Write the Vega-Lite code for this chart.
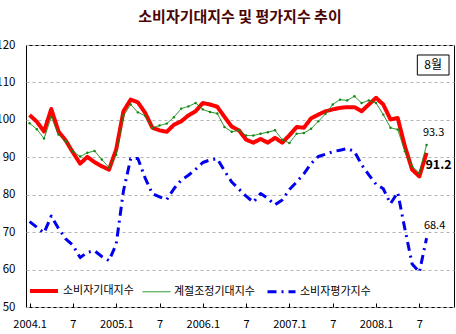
{
  "$schema": "https://vega.github.io/schema/vega-lite/v6.json",
  "width": 428,
  "height": 262,
  "autosize": {"type": "none"},
  "padding": {"left": 26, "top": 45, "right": 2, "bottom": 27},
  "background": "white",
  "title": {"text": "소비자기대지수 및 평가지수 추이", "anchor": "middle", "frame": "group", "offset": 2, "baseline": "alphabetic", "fontSize": 15, "fontWeight": "bold", "color": "#4a0505", "font": "Noto Sans CJK KR"},
  "config": {
    "view": {"stroke": "black", "strokeWidth": 1},
    "font": "Noto Sans CJK KR",
    "axis": {"labelOverlap": false, "labelSeparation": 0, "labelBound": false},
    "axisY": {"labelOverlap": false, "title": null, "ticks": false, "domain": false, "grid": true, "gridDash": [3, 3], "gridColor": "#b4b4b4", "labelPadding": 11, "labelFontSize": 11.5, "labelColor": "black", "labelFont": "Noto Sans CJK KR", "tickCount": 8},
    "axisX": {"labelOverlap": false, "title": null, "grid": false, "domain": false, "tickSize": -4, "tickColor": "black", "labelPadding": 15, "labelFontSize": 11, "labelColor": "black", "labelFont": "Noto Sans CJK KR"}
  },
  "datasets": {
    "main": [
      {"m":0,"소비자기대지수":101.3,"계절조정기대지수":99.1,"소비자평가지수":72.8},
      {"m":1,"소비자기대지수":99.5,"계절조정기대지수":97.5,"소비자평가지수":71.3},
      {"m":2,"소비자기대지수":96.9,"계절조정기대지수":95.0,"소비자평가지수":69.8},
      {"m":3,"소비자기대지수":102.9,"계절조정기대지수":100.8,"소비자평가지수":74.3},
      {"m":4,"소비자기대지수":96.9,"계절조정기대지수":96.1,"소비자평가지수":71.0},
      {"m":5,"소비자기대지수":94.5,"계절조정기대지수":94.3,"소비자평가지수":68.2},
      {"m":6,"소비자기대지수":91.3,"계절조정기대지수":91.6,"소비자평가지수":66.5},
      {"m":7,"소비자기대지수":88.3,"계절조정기대지수":90.2,"소비자평가지수":63.2},
      {"m":8,"소비자기대지수":90.1,"계절조정기대지수":91.2,"소비자평가지수":64.6},
      {"m":9,"소비자기대지수":88.7,"계절조정기대지수":91.7,"소비자평가지수":65.0},
      {"m":10,"소비자기대지수":87.6,"계절조정기대지수":89.4,"소비자평가지수":63.5},
      {"m":11,"소비자기대지수":86.7,"계절조정기대지수":87.3,"소비자평가지수":62.4},
      {"m":12,"소비자기대지수":92.1,"계절조정기대지수":90.7,"소비자평가지수":66.8},
      {"m":13,"소비자기대지수":102.3,"계절조정기대지수":101.1,"소비자평가지수":81.0},
      {"m":14,"소비자기대지수":105.4,"계절조정기대지수":104.1,"소비자평가지수":89.6},
      {"m":15,"소비자기대지수":104.7,"계절조정기대지수":102.0,"소비자평가지수":89.7},
      {"m":16,"소비자기대지수":101.9,"계절조정기대지수":101.1,"소비자평가지수":84.5},
      {"m":17,"소비자기대지수":97.9,"계절조정기대지수":97.8,"소비자평가지수":80.3},
      {"m":18,"소비자기대지수":97.2,"계절조정기대지수":98.5,"소비자평가지수":79.4},
      {"m":19,"소비자기대지수":96.8,"계절조정기대지수":99.0,"소비자평가지수":78.7},
      {"m":20,"소비자기대지수":98.7,"계절조정기대지수":100.7,"소비자평가지수":81.6},
      {"m":21,"소비자기대지수":99.6,"계절조정기대지수":103.0,"소비자평가지수":83.9},
      {"m":22,"소비자기대지수":101.2,"계절조정기대지수":103.6,"소비자평가지수":85.2},
      {"m":23,"소비자기대지수":102.3,"계절조정기대지수":104.5,"소비자평가지수":86.8},
      {"m":24,"소비자기대지수":104.5,"계절조정기대지수":102.8,"소비자평가지수":88.6},
      {"m":25,"소비자기대지수":104.1,"계절조정기대지수":102.1,"소비자평가지수":89.3},
      {"m":26,"소비자기대지수":103.5,"계절조정기대지수":101.7,"소비자평가지수":89.6},
      {"m":27,"소비자기대지수":100.8,"계절조정기대지수":98.1,"소비자평가지수":86.4},
      {"m":28,"소비자기대지수":98.2,"계절조정기대지수":96.8,"소비자평가지수":83.4},
      {"m":29,"소비자기대지수":97.2,"계절조정기대지수":97.2,"소비자평가지수":81.5},
      {"m":30,"소비자기대지수":94.7,"계절조정기대지수":95.8,"소비자평가지수":79.6},
      {"m":31,"소비자기대지수":93.9,"계절조정기대지수":95.8,"소비자평가지수":78.0},
      {"m":32,"소비자기대지수":94.9,"계절조정기대지수":96.3,"소비자평가지수":80.3},
      {"m":33,"소비자기대지수":93.9,"계절조정기대지수":96.7,"소비자평가지수":79.0},
      {"m":34,"소비자기대지수":95.2,"계절조정기대지수":97.2,"소비자평가지수":77.3},
      {"m":35,"소비자기대지수":93.9,"계절조정기대지수":94.7,"소비자평가지수":78.6},
      {"m":36,"소비자기대지수":95.9,"계절조정기대지수":93.8,"소비자평가지수":81.4},
      {"m":37,"소비자기대지수":98.1,"계절조정기대지수":96.3,"소비자평가지수":83.4},
      {"m":38,"소비자기대지수":97.9,"계절조정기대지수":96.5,"소비자평가지수":85.6},
      {"m":39,"소비자기대지수":100.4,"계절조정기대지수":97.6,"소비자평가지수":88.3},
      {"m":40,"소비자기대지수":101.4,"계절조정기대지수":99.6,"소비자평가지수":90.2},
      {"m":41,"소비자기대지수":102.3,"계절조정기대지수":101.6,"소비자평가지수":90.8},
      {"m":42,"소비자기대지수":102.8,"계절조정기대지수":104.1,"소비자평가지수":91.5},
      {"m":43,"소비자기대지수":103.2,"계절조정기대지수":105.4,"소비자평가지수":91.9},
      {"m":44,"소비자기대지수":103.4,"계절조정기대지수":105.2,"소비자평가지수":92.3},
      {"m":45,"소비자기대지수":103.4,"계절조정기대지수":106.3,"소비자평가지수":91.6},
      {"m":46,"소비자기대지수":102.3,"계절조정기대지수":104.5,"소비자평가지수":88.0},
      {"m":47,"소비자기대지수":104.1,"계절조정기대지수":105.2,"소비자평가지수":85.3},
      {"m":48,"소비자기대지수":105.9,"계절조정기대지수":104.5,"소비자평가지수":82.8},
      {"m":49,"소비자기대지수":104.1,"계절조정기대지수":101.4,"소비자평가지수":81.6},
      {"m":50,"소비자기대지수":100.1,"계절조정기대지수":97.9,"소비자평가지수":77.6},
      {"m":51,"소비자기대지수":100.5,"계절조정기대지수":97.4,"소비자평가지수":80.6},
      {"m":52,"소비자기대지수":92.9,"계절조정기대지수":91.6,"소비자평가지수":70.8},
      {"m":53,"소비자기대지수":86.7,"계절조정기대지수":87.6,"소비자평가지수":61.5},
      {"m":54,"소비자기대지수":84.9,"계절조정기대지수":85.8,"소비자평가지수":59.3},
      {"m":55,"소비자기대지수":91.2,"계절조정기대지수":93.3,"소비자평가지수":68.4}
    ],
    "note": [{"label": "8월"}]
  },
  "layer": [
    {
      "data": {"name": "main"},
      "transform": [{"fold": ["소비자기대지수", "계절조정기대지수", "소비자평가지수"], "as": ["series", "value"]}],
      "mark": {"type": "line", "strokeCap": "butt", "strokeJoin": "round"},
      "encoding": {
        "x": {"field": "m", "type": "quantitative", "scale": {"domain": [-0.5, 58.8], "nice": false, "zero": false},
          "axis": {"values": [0, 6, 12, 18, 24, 30, 36, 42, 48, 54], "labelExpr": "datum.value % 12 == 0 ? (2004 + datum.value / 12) + '.1' : '7'"}},
        "y": {"field": "value", "type": "quantitative", "scale": {"domain": [50, 120], "nice": false, "zero": false},
          "axis": {"values": [50, 60, 70, 80, 90, 100, 110, 120], "labelOverlap": false, "tickCount": 8}},
        "color": {"field": "series", "type": "nominal", "scale": {"domain": ["소비자기대지수", "계절조정기대지수", "소비자평가지수"], "range": ["#ff0000", "#118811", "#0000ee"]},
          "legend": {"title": null, "orient": "none", "legendX": 2, "legendY": 230, "direction": "horizontal", "symbolType": "stroke", "symbolSize": 784, "labelFontSize": 11, "labelOffset": 3, "columnPadding": 6, "labelFont": "Noto Sans CJK KR", "labelColor": "black", "labelLimit": 200}},
        "strokeWidth": {"field": "series", "type": "nominal", "scale": {"type": "ordinal", "domain": ["소비자기대지수", "계절조정기대지수", "소비자평가지수"], "range": [4, 1, 3]},
          "legend": {"title": null, "orient": "none", "legendX": 2, "legendY": 230, "direction": "horizontal", "symbolType": "stroke", "symbolSize": 784, "labelFontSize": 11, "labelOffset": 3, "columnPadding": 6, "labelFont": "Noto Sans CJK KR", "labelColor": "black", "labelLimit": 200}},
        "strokeDash": {"field": "series", "type": "nominal", "scale": {"domain": ["소비자기대지수", "계절조정기대지수", "소비자평가지수"], "range": [[1, 0], [1, 0], [9, 5, 2, 5]]},
          "legend": {"title": null, "orient": "none", "legendX": 2, "legendY": 230, "direction": "horizontal", "symbolType": "stroke", "symbolSize": 784, "labelFontSize": 11, "labelOffset": 3, "columnPadding": 6, "labelFont": "Noto Sans CJK KR", "labelColor": "black", "labelLimit": 200}}
      }
    },
    {
      "data": {"name": "main"},
      "mark": {"type": "point", "filled": true, "size": 6, "color": "#118811", "opacity": 1},
      "encoding": {
        "x": {"field": "m", "type": "quantitative"},
        "y": {"field": "계절조정기대지수", "type": "quantitative"}
      }
    },
    {
      "data": {"name": "main"},
      "transform": [{"filter": "datum.m == 55"}],
      "mark": {"type": "text", "dx": 7, "dy": -11.5, "fontSize": 11, "align": "center", "baseline": "middle", "color": "black"},
      "encoding": {
        "x": {"field": "m", "type": "quantitative"},
        "y": {"field": "계절조정기대지수", "type": "quantitative"},
        "text": {"field": "계절조정기대지수", "type": "quantitative", "format": ".1f"}
      }
    },
    {
      "data": {"name": "main"},
      "transform": [{"filter": "datum.m == 55"}],
      "mark": {"type": "text", "dx": 12, "dy": 12, "fontSize": 12.5, "fontWeight": "bold", "align": "center", "baseline": "middle", "color": "black"},
      "encoding": {
        "x": {"field": "m", "type": "quantitative"},
        "y": {"field": "소비자기대지수", "type": "quantitative"},
        "text": {"field": "소비자기대지수", "type": "quantitative", "format": ".1f"}
      }
    },
    {
      "data": {"name": "main"},
      "transform": [{"filter": "datum.m == 55"}],
      "mark": {"type": "text", "dx": 8, "dy": -12, "fontSize": 11, "align": "center", "baseline": "middle", "color": "black"},
      "encoding": {
        "x": {"field": "m", "type": "quantitative"},
        "y": {"field": "소비자평가지수", "type": "quantitative"},
        "text": {"field": "소비자평가지수", "type": "quantitative", "format": ".1f"}
      }
    },
    {
      "data": {"name": "note"},
      "mark": {"type": "rect", "fill": "white", "stroke": "black", "strokeWidth": 1},
      "encoding": {
        "x": {"datum": 53.72},
        "x2": {"datum": 58.11},
        "y": {"datum": 117.33},
        "y2": {"datum": 111.98}
      }
    },
    {
      "data": {"name": "note"},
      "mark": {"type": "text", "fontSize": 12, "align": "center", "baseline": "middle", "color": "black"},
      "encoding": {
        "x": {"datum": 55.9},
        "y": {"datum": 114.66},
        "text": {"field": "label", "type": "nominal"}
      }
    }
  ]
}
